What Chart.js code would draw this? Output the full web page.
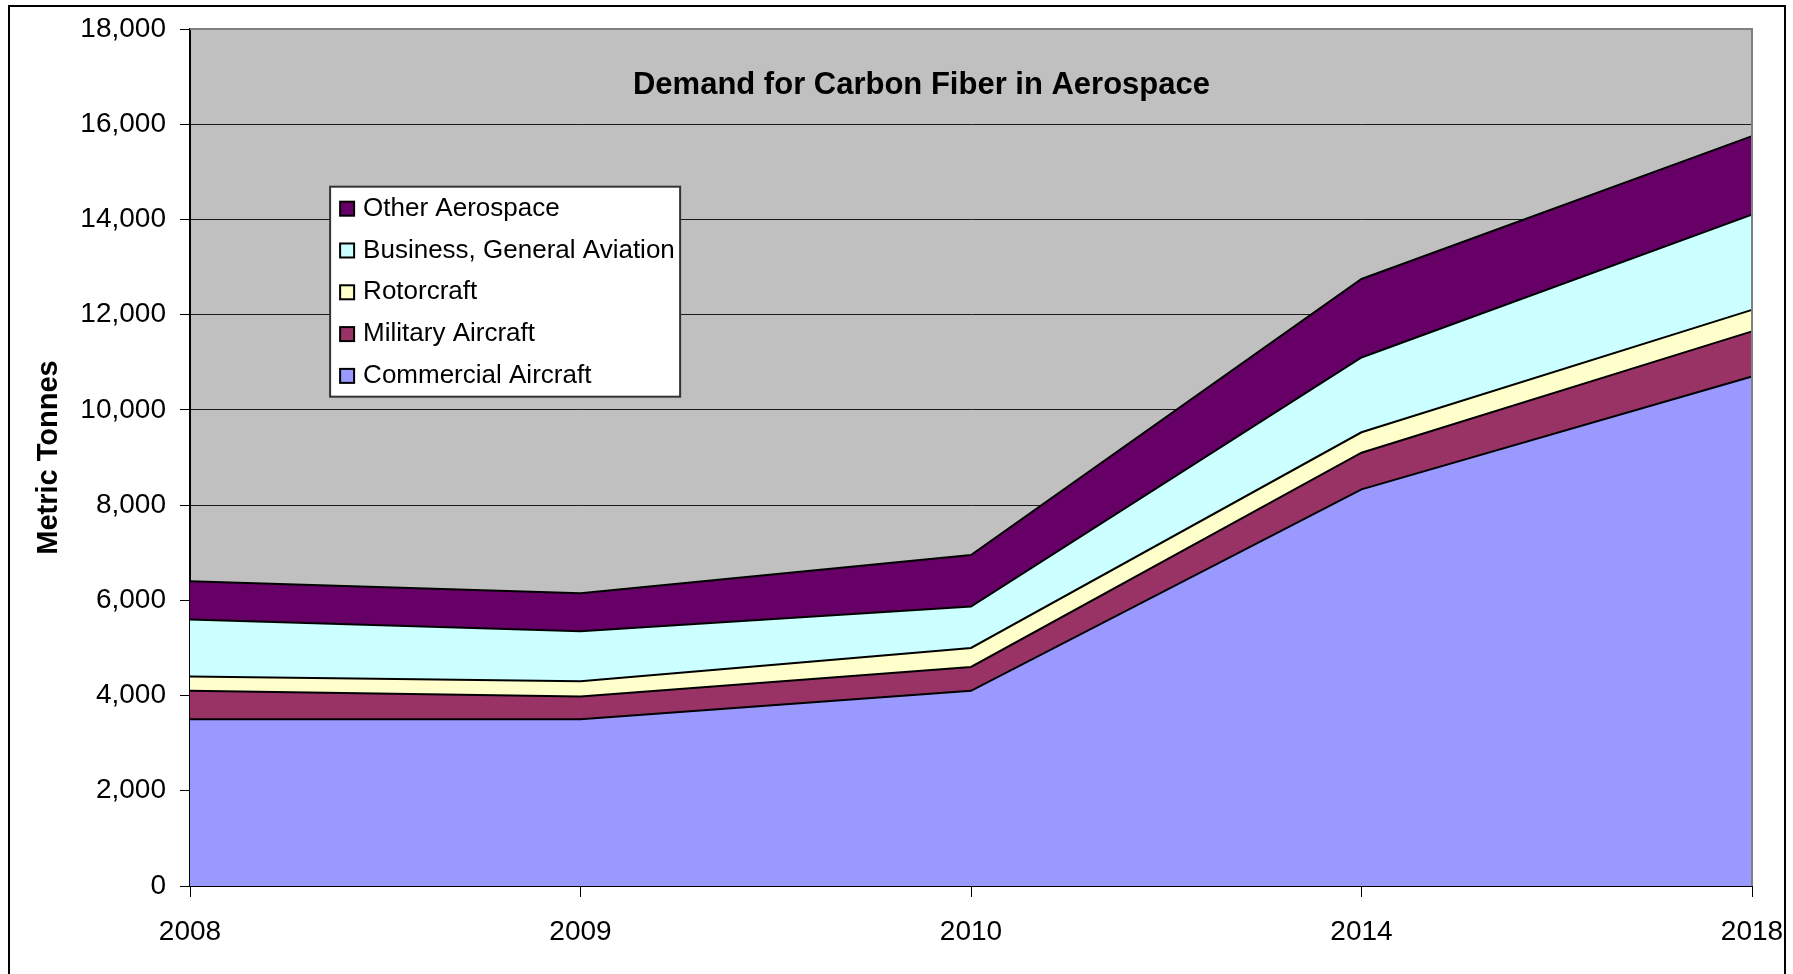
<!DOCTYPE html>
<html>
<head>
<meta charset="utf-8">
<title>Demand for Carbon Fiber in Aerospace</title>
<script src="https://cdn.jsdelivr.net/npm/chart.js@4"></script>
<style>
  html, body { margin: 0; padding: 0; background: #ffffff; }
  #wrap { position: relative; width: 1793px; height: 974px; }
</style>
</head>
<body>
<div id="wrap"><canvas id="chart"></canvas></div>
<script>
// Demand by segment, metric tonnes
const years = ['2008', '2009', '2010', '2014', '2018'];
const commercialAircraft = [3500, 3500, 4100, 8330, 10700];
const militaryAircraft = [600, 480, 500, 770, 950];
const rotorcraft = [300, 320, 400, 430, 450];
const businessGeneralAviation = [1200, 1050, 870, 1570, 2000];
const otherAerospace = [800, 800, 1080, 1650, 1650];

const seriesNames = ['Commercial Aircraft', 'Military Aircraft', 'Rotorcraft', 'Business, General Aviation', 'Other Aerospace'];
const seriesColors = ['#9999ff', '#993366', '#ffffcc', '#ccffff', '#660066'];
const seriesValues = [commercialAircraft, militaryAircraft, rotorcraft, businessGeneralAviation, otherAerospace];

const chartTitle = 'Demand for Carbon Fiber in Aerospace';
const yAxisTitle = 'Metric Tonnes';
const yMin = 0, yMax = 18000, yStep = 2000;

const FONT = '"Liberation Sans", Arial, sans-serif';

const datasets = seriesValues.map((vals, i) => ({
  label: seriesNames[i],
  data: vals,
  backgroundColor: seriesColors[i],
  borderColor: '#000000',
  borderWidth: 2,
  pointRadius: 0,
  pointHoverRadius: 0,
  tension: 0,
  fill: i === 0 ? 'origin' : '-1'
}));

// Grey plot area with a thin grey frame on top and right
const plotBackground = {
  id: 'plotBackground',
  beforeDraw(chart) {
    const { ctx, chartArea: a } = chart;
    ctx.save();
    ctx.fillStyle = '#c0c0c0';
    ctx.fillRect(a.left, a.top, a.right - a.left, a.bottom - a.top);
    ctx.restore();
  },
  afterDatasetsDraw(chart) {
    const { ctx, chartArea: a } = chart;
    ctx.save();
    ctx.strokeStyle = '#808080';
    ctx.lineWidth = 2;
    ctx.beginPath();
    ctx.moveTo(a.left, a.top);
    ctx.lineTo(a.right, a.top);
    ctx.lineTo(a.right, a.bottom);
    ctx.stroke();
    ctx.restore();
  }
};

// Title inside the plot area, legend box, and outer frame
const overlay = {
  id: 'overlay',
  afterDraw(chart) {
    const { ctx, chartArea: a } = chart;
    const w = a.right - a.left;
    const h = a.bottom - a.top;
    ctx.save();

    // title
    ctx.fillStyle = '#000000';
    ctx.font = 'bold 31px ' + FONT;
    ctx.textAlign = 'center';
    ctx.textBaseline = 'middle';
    ctx.fillText(chartTitle, a.left + w * 0.4683, a.top + h * 0.0655);

    // legend (top series first)
    const bx = a.left + w * 0.0897;
    const by = a.top + h * 0.184;
    const bw = 350, bh = 210;
    ctx.fillStyle = '#ffffff';
    ctx.fillRect(bx, by, bw, bh);
    ctx.strokeStyle = '#333333';
    ctx.lineWidth = 2;
    ctx.strokeRect(bx, by, bw, bh);

    const items = chart.data.datasets.map((d, i) => ({ label: d.label, color: d.backgroundColor })).reverse();
    ctx.font = '26px ' + FONT;
    ctx.textAlign = 'left';
    ctx.textBaseline = 'middle';
    items.forEach((it, k) => {
      const cy = by + 22 + k * 41.8;
      ctx.fillStyle = it.color;
      ctx.fillRect(bx + 10, cy - 7, 14, 14);
      ctx.strokeStyle = '#000000';
      ctx.lineWidth = 2;
      ctx.strokeRect(bx + 10, cy - 7, 14, 14);
      ctx.fillStyle = '#000000';
      ctx.fillText(it.label, bx + 33, cy);
    });

    // outer frame
    ctx.strokeStyle = '#000000';
    ctx.lineWidth = 2;
    ctx.strokeRect(9, 6, 1776, 1000);
    ctx.restore();
  }
};

new Chart(document.getElementById('chart'), {
  type: 'line',
  data: { labels: years, datasets },
  options: {
    responsive: true,
    maintainAspectRatio: false,
    animation: false,
    events: [],
    layout: { padding: { left: 0, top: 29, right: 41, bottom: 0 } },
    plugins: {
      legend: { display: false },
      title: { display: false },
      tooltip: { enabled: false }
    },
    scales: {
      x: {
        type: 'category',
        offset: false,
        afterFit(scale) { scale.height = 88; scale.paddingLeft = 0; scale.paddingRight = 0; },
        grid: { drawOnChartArea: false, drawTicks: true, tickLength: 11, color: '#000000', tickWidth: 1 },
        border: { display: true, color: '#000000', width: 2 },
        ticks: {
          color: '#000000',
          font: { family: FONT, size: 28 },
          padding: 18,
          maxRotation: 0,
          autoSkip: false
        }
      },
      y: {
        stacked: true,
        min: yMin,
        max: yMax,
        afterFit(scale) { scale.width = 190; scale.paddingTop = 0; scale.paddingBottom = 0; },
        grid: {
          color: (c) => (c.tick && c.tick.value === yMax ? '#808080' : '#1a1a1a'),
          tickColor: '#000000',
          lineWidth: 1,
          tickLength: 10,
          drawTicks: true
        },
        border: { display: true, color: '#000000', width: 2 },
        ticks: {
          stepSize: yStep,
          color: '#000000',
          font: { family: FONT, size: 28 },
          padding: 14,
          callback: (v) => Number(v).toLocaleString('en-US')
        },
        title: {
          display: true,
          text: yAxisTitle,
          color: '#000000',
          font: { family: FONT, size: 29, weight: 'bold' },
          padding: { top: 32, bottom: 0 }
        }
      }
    }
  },
  plugins: [plotBackground, overlay]
});
</script>
</body>
</html>
